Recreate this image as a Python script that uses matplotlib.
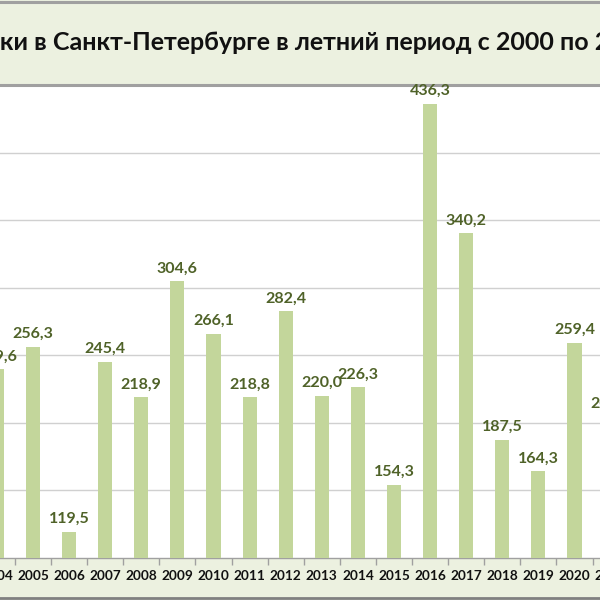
import matplotlib
matplotlib.use("Agg")
import matplotlib.pyplot as plt
from matplotlib.lines import Line2D
from matplotlib.ticker import FixedLocator
import matplotlib.transforms as mtransforms

years = ["2004", "2005", "2006", "2007", "2008", "2009", "2010", "2011", "2012",
         "2013", "2014", "2015", "2016", "2017", "2018", "2019", "2020", "2021"]
values = [239.6, 256.3, 119.5, 245.4, 218.9, 304.6, 266.1, 218.8, 282.4,
          220.0, 226.3, 154.3, 436.3, 340.2, 187.5, 164.3, 259.4, 205.0]
labels = ["239,6", "256,3", "119,5", "245,4", "218,9", "304,6", "266,1", "218,8", "282,4",
          "220,0", "226,3", "154,3", "436,3", "340,2", "187,5", "164,3", "259,4", "205,0"]
title = "Осадки в Санкт-Петербурге в летний период с 2000 по 2021 гг."

BG = "#ECF1E0"
BAR = "#C3D69B"
LAB = "#4F6228"
GRID = "#D0D0D0"
BORDER = "#A0A0A0"
FONT = "Lato"

fig = plt.figure(figsize=(6, 6), dpi=100, facecolor=BG)
H = 600.0
def fy(px):
    return 1 - px / H

ax = fig.add_axes([0.0, fy(558), 1.0, fy(85) - fy(558)])
ax.set_facecolor("white")
x = [int(y) - 2000 for y in years]
ax.bar(x, values, width=0.39, color=BAR, zorder=3)
ax.set_yticks([150, 200, 250, 300, 350, 400])
ax.yaxis.grid(True, color=GRID, linewidth=1.0, zorder=0)
ax.tick_params(axis="y", left=False, labelleft=False)
for s in ["left", "right"]:
    ax.spines[s].set_visible(False)
ax.spines["top"].set_color(BORDER)
ax.spines["top"].set_linewidth(2.2)
ax.spines["bottom"].set_color(BORDER)
ax.spines["bottom"].set_linewidth(1.0)
ax.set_xticks(x)
ax.tick_params(axis="x", which="major", length=0, labelbottom=False)
ax.xaxis.set_minor_locator(FixedLocator([v + 0.5 for v in range(3, 22)]))
ax.tick_params(axis="x", which="minor", length=5, color=BORDER, width=1)
ax.set_xlim(4.086, 20.706)
ax.set_ylim(100, 450)

# category labels (drawn as texts so the partly visible edge ones also show)
trans = mtransforms.blended_transform_factory(ax.transData, ax.transAxes)
offs = mtransforms.offset_copy(trans, fig=fig, x=0, y=-9, units="points")
for xi, t in zip(x, years):
    ax.text(xi, 0, t, transform=offs, ha="center", va="top", fontfamily=FONT,
            fontweight="bold", fontsize=9.8, color="#111111", clip_on=False)

for xi, v, t in zip(x, values, labels):
    ax.annotate(t, (xi, v), xytext=(0, 4), textcoords="offset points",
                ha="center", va="bottom", fontfamily=FONT, fontweight="bold",
                fontsize=11.5, color=LAB, zorder=5, annotation_clip=False)

# title band border lines
fig.add_artist(Line2D([0, 1], [fy(2), fy(2)], color=BORDER, linewidth=2.2))
fig.add_artist(Line2D([0, 1], [fy(598), fy(598)], color="#808080", linewidth=2.0))

# title: position so that "ки" begins at the left edge
TS = 18
fig.canvas.draw()
r = fig.canvas.get_renderer()
probe = fig.text(0, 0, "Осад", fontfamily=FONT, fontweight="bold", fontsize=TS)
w = probe.get_window_extent(renderer=r).width
probe.remove()
fig.text(-w / 600.0, fy(43), title, ha="left", va="center",
         fontfamily=FONT, fontweight="bold", fontsize=TS, color="#111111")

fig.savefig("out.png", dpi=100, facecolor=BG)
